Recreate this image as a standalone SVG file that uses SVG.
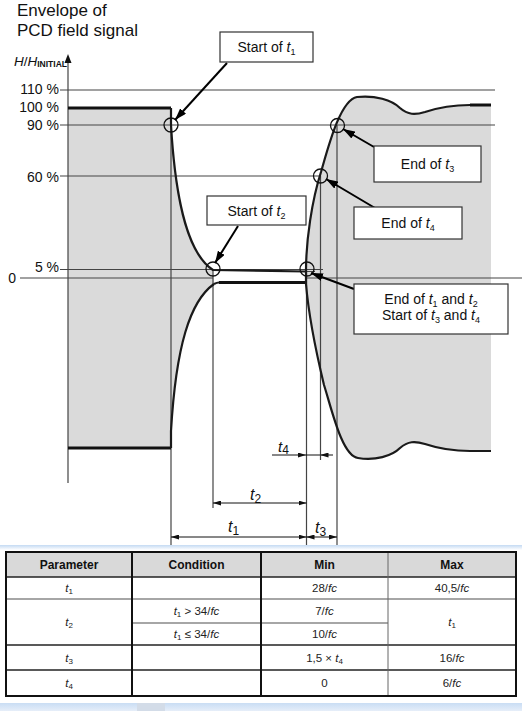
<svg xmlns="http://www.w3.org/2000/svg" width="522" height="711" viewBox="0 0 522 711">
<style>
.t{font-family:"Liberation Sans",Arial,sans-serif;fill:#111}
.lvl{stroke:#444;stroke-width:1.2;fill:none}
.env{stroke:#1a1a1a;stroke-width:2.2;fill:none}
.thk{stroke:#111;stroke-width:3;fill:none}
.box{fill:#fff;stroke:#333;stroke-width:1.2}
.circ{fill:none;stroke:#111;stroke-width:1.3}
.call{stroke:#000;stroke-width:2;fill:none;marker-end:url(#ah)}
.dim{stroke:#111;stroke-width:1;fill:none}
.dim2{stroke:#111;stroke-width:1;fill:none;marker-start:url(#da);marker-end:url(#da)}
.grid{stroke:#222;stroke-width:1.5}
.gridl{stroke:#888;stroke-width:1.5}
.tb{font-family:"Liberation Sans",Arial,sans-serif;font-size:11.5px;fill:#222;text-anchor:middle}
.th{font-family:"Liberation Sans",Arial,sans-serif;font-size:12px;font-weight:bold;fill:#111;text-anchor:middle}
.i{font-style:italic}
</style>
<defs>
<marker id="ah" viewBox="0 0 12 8" refX="12" refY="4" markerWidth="12" markerHeight="8" markerUnits="userSpaceOnUse" orient="auto"><path d="M0,0 L12,4 L0,8 Z" fill="#000"/></marker>
<marker id="da" viewBox="0 0 8 5" refX="8" refY="2.5" markerWidth="8" markerHeight="5" markerUnits="userSpaceOnUse" orient="auto-start-reverse"><path d="M0,0 L8,2.5 L0,5 Z" fill="#111"/></marker>
<linearGradient id="bl" x1="0" y1="0" x2="0" y2="1"><stop offset="0" stop-color="#c4daf3"/><stop offset="1" stop-color="#ffffff"/></linearGradient>
<linearGradient id="bl2" x1="0" y1="0" x2="0" y2="1"><stop offset="0" stop-color="#c9ddf4"/><stop offset="1" stop-color="#e6eef9"/></linearGradient>
</defs>
<rect width="522" height="711" fill="#fff"/>

<g id="title">
<text class="t" x="17" y="16" font-size="17">Envelope of</text>
<text class="t" x="17" y="36" font-size="17">PCD field signal</text>
</g>

<g id="signal">
<path d="M68,108 L171,108 L171,125 C176,210 190,255 213,270 L214,284 C190,301 176,346 171,431 L171,448 L68,448 Z" fill="#dadada"/>
<path d="M306,271 C306,240 312,200 321,172 C328,148 340,100 357,97 C375,95 392,100 400,108 C408,115 415,115 425,112 C440,107 455,105 470,105 L491,105 L491,451 L470,451 C455,451 440,449 425,444 C415,441 408,441 400,448 C392,456 375,461 358,458 C342,456 332,410 324,385 C318,360 309,320 306,284 Z" fill="#dadada"/>
</g>

<g id="axes">
<line class="lvl" x1="60" y1="90" x2="495" y2="90"/>
<line class="lvl" x1="60" y1="125" x2="495" y2="125"/>
<line class="lvl" x1="60" y1="176" x2="320" y2="176"/>
<line class="lvl" x1="60" y1="269.5" x2="323" y2="269.5"/>
<line class="lvl" x1="20" y1="278" x2="213" y2="278"/>
<line class="lvl" x1="306" y1="278" x2="522" y2="278"/>
<line class="lvl" x1="68" y1="483" x2="68" y2="60"/>
<path d="M68,54 L71.5,63 L64.5,63 Z" fill="#111"/>
<line class="lvl" x1="171" y1="108" x2="171" y2="545"/>
<line class="lvl" x1="213" y1="269" x2="213" y2="508"/>
<line class="lvl" x1="306.5" y1="269" x2="306.5" y2="545"/>
<line class="lvl" x1="320.5" y1="176" x2="320.5" y2="460"/>
<line class="lvl" x1="337" y1="125" x2="337" y2="545"/>
<text class="t" x="67" y="66" text-anchor="end"><tspan class="i" font-size="13.5">H</tspan><tspan font-size="13.5">/</tspan><tspan class="i" font-size="13.5">H</tspan><tspan font-size="8.5" font-weight="bold" dy="1">INITIAL</tspan></text>
<text class="t" x="59" y="94" font-size="14" text-anchor="end">110 %</text>
<text class="t" x="59" y="112" font-size="14" text-anchor="end">100 %</text>
<text class="t" x="59" y="130" font-size="14" text-anchor="end">90 %</text>
<text class="t" x="59" y="182" font-size="14" text-anchor="end">60 %</text>
<text class="t" x="59" y="272" font-size="14" text-anchor="end">5 %</text>
<text class="t" x="16" y="283" font-size="14" text-anchor="end">0</text>
</g>

<g id="envelope">
<path class="thk" d="M68,108 L171,108"/>
<path class="env" d="M171,108 L171,125 C176,210 190,255 213,270 L306,271.5"/>
<line stroke="#444" stroke-width="1" x1="306" y1="271.5" x2="315" y2="271.5"/>
<path class="thk" d="M68,448 L171,448"/>
<path class="env" d="M171,448 L171,431 C176,346 190,301 214,284"/>
<path class="thk" d="M219,282.5 L306,282.5"/>
<path class="env" d="M214,284 C216,283 217,282.5 219,282.5"/>
<path class="env" d="M306,284 L306,271 C306,240 312,200 321,172 C328,148 340,100 357,97 C375,95 392,100 400,108 C408,115 415,115 425,112 C440,107 455,105 470,105"/>
<path class="thk" d="M470,105 L491,105"/>
<path class="env" d="M306,284 C309,320 318,360 324,385 C332,410 342,456 358,458 C375,461 392,456 400,448 C408,441 415,441 425,444 C440,449 455,451 470,451 L491,451"/>
</g>

<g id="markers">
<circle class="circ" cx="171" cy="125" r="7"/>
<circle class="circ" cx="213" cy="269" r="7"/>
<circle class="circ" cx="307" cy="269" r="7"/>
<circle class="circ" cx="320.5" cy="176" r="7"/>
<circle class="circ" cx="337.5" cy="125.5" r="7"/>
</g>

<g id="connectors">
<line class="call" x1="227" y1="63" x2="175" y2="120"/>
<line class="call" x1="238" y1="226" x2="215" y2="263"/>
<line class="call" x1="374" y1="147" x2="343" y2="129"/>
<line class="call" x1="375" y1="208" x2="326" y2="179"/>
<line class="call" x1="354" y1="289" x2="311" y2="273"/>
<line class="dim" x1="272" y1="455" x2="306" y2="455" marker-end="url(#da)"/>
<line class="dim" x1="306" y1="455" x2="320" y2="455"/>
<line class="dim" x1="333" y1="455" x2="320.5" y2="455" marker-end="url(#da)"/>
<line class="dim2" x1="213" y1="503" x2="306.5" y2="503"/>
<line class="dim2" x1="171" y1="537" x2="306.5" y2="537"/>
<line class="dim2" x1="306.5" y1="537" x2="337" y2="537"/>
</g>

<g id="dimlabels">
<text class="t" x="278" y="452" font-size="15"><tspan class="i">t</tspan><tspan font-size="12" dy="2">4</tspan></text>
<text class="t" x="250" y="500" font-size="16"><tspan class="i">t</tspan><tspan font-size="12" dy="3">2</tspan></text>
<text class="t" x="228" y="532" font-size="16"><tspan class="i">t</tspan><tspan font-size="12" dy="3">1</tspan></text>
<text class="t" x="315" y="533" font-size="16"><tspan class="i">t</tspan><tspan font-size="12" dy="3">3</tspan></text>
</g>

<g id="start-t1">
<rect class="box" x="220" y="32" width="93" height="30"/>
<text class="t" x="266.5" y="52" font-size="14" text-anchor="middle">Start of <tspan class="i">t</tspan><tspan font-size="9" dy="3">1</tspan></text>
</g>
<g id="start-t2">
<rect class="box" x="207" y="196" width="99" height="29"/>
<text class="t" x="256.5" y="216" font-size="14" text-anchor="middle">Start of <tspan class="i">t</tspan><tspan font-size="9" dy="3">2</tspan></text>
</g>
<g id="end-t3">
<rect class="box" x="374" y="146" width="107" height="36"/>
<text class="t" x="427.5" y="169" font-size="14" text-anchor="middle">End of <tspan class="i">t</tspan><tspan font-size="9" dy="3">3</tspan></text>
</g>
<g id="end-t4">
<rect class="box" x="354" y="207" width="108" height="32"/>
<text class="t" x="408" y="228" font-size="14" text-anchor="middle">End of <tspan class="i">t</tspan><tspan font-size="9" dy="3">4</tspan></text>
</g>
<g id="end-t1-t2">
<rect class="box" x="354" y="284" width="154" height="50"/>
<text class="t" x="431" y="304" font-size="14" text-anchor="middle">End of <tspan class="i">t</tspan><tspan font-size="9" dy="3">1</tspan><tspan dy="-3"> and </tspan><tspan class="i">t</tspan><tspan font-size="9" dy="3">2</tspan></text>
<text class="t" x="431" y="320" font-size="14" text-anchor="middle">Start of <tspan class="i">t</tspan><tspan font-size="9" dy="3">3</tspan><tspan dy="-3"> and </tspan><tspan class="i">t</tspan><tspan font-size="9" dy="3">4</tspan></text>
</g>

<g id="bands">
<rect x="0" y="545" width="522" height="5" fill="url(#bl)"/>
<rect x="0" y="703" width="522" height="8" fill="url(#bl2)"/>
<rect x="137" y="703" width="28" height="8" fill="#d3dce8"/>
</g>

<g id="table">
<rect x="6" y="552" width="510" height="25" fill="#d9d9d9"/>
<line class="grid" x1="6" y1="577" x2="516" y2="577"/>
<line class="gridl" x1="6" y1="599" x2="516" y2="599"/>
<line class="gridl" x1="132" y1="623" x2="388" y2="623"/>
<line class="grid" x1="6" y1="645" x2="516" y2="645"/>
<line class="grid" x1="6" y1="670" x2="516" y2="670"/>
<line stroke="#111" stroke-width="2" x1="132" y1="552" x2="132" y2="696"/>
<line stroke="#111" stroke-width="2" x1="261" y1="552" x2="261" y2="696"/>
<line stroke="#666" stroke-width="1" x1="388" y1="552" x2="388" y2="696"/>
<rect x="6" y="552" width="510" height="144" fill="none" stroke="#111" stroke-width="2"/>
<text class="th" x="69" y="569">Parameter</text>
<text class="th" x="196.5" y="569">Condition</text>
<text class="th" x="324.5" y="569">Min</text>
<text class="th" x="452" y="569">Max</text>
<text class="tb" x="69" y="592"><tspan class="i">t</tspan><tspan font-size="8" dy="2">1</tspan></text>
<text class="tb" x="324.5" y="592">28/<tspan class="i">fc</tspan></text>
<text class="tb" x="452" y="592">40,5/<tspan class="i">fc</tspan></text>
<text class="tb" x="69" y="626"><tspan class="i">t</tspan><tspan font-size="8" dy="2">2</tspan></text>
<text class="tb" x="196.5" y="615"><tspan class="i">t</tspan><tspan font-size="8" dy="2">1</tspan><tspan dy="-2"> &gt; 34/</tspan><tspan class="i">fc</tspan></text>
<text class="tb" x="324.5" y="615">7/<tspan class="i">fc</tspan></text>
<text class="tb" x="196.5" y="638"><tspan class="i">t</tspan><tspan font-size="8" dy="2">1</tspan><tspan dy="-2"> ≤ 34/</tspan><tspan class="i">fc</tspan></text>
<text class="tb" x="324.5" y="638">10/<tspan class="i">fc</tspan></text>
<text class="tb" x="452" y="626"><tspan class="i">t</tspan><tspan font-size="8" dy="2">1</tspan></text>
<text class="tb" x="69" y="662"><tspan class="i">t</tspan><tspan font-size="8" dy="2">3</tspan></text>
<text class="tb" x="324.5" y="662">1,5 × <tspan class="i">t</tspan><tspan font-size="8" dy="2">4</tspan></text>
<text class="tb" x="452" y="662">16/<tspan class="i">fc</tspan></text>
<text class="tb" x="69" y="687"><tspan class="i">t</tspan><tspan font-size="8" dy="2">4</tspan></text>
<text class="tb" x="324.5" y="687">0</text>
<text class="tb" x="452" y="687">6/<tspan class="i">fc</tspan></text>
</g>
</svg>
